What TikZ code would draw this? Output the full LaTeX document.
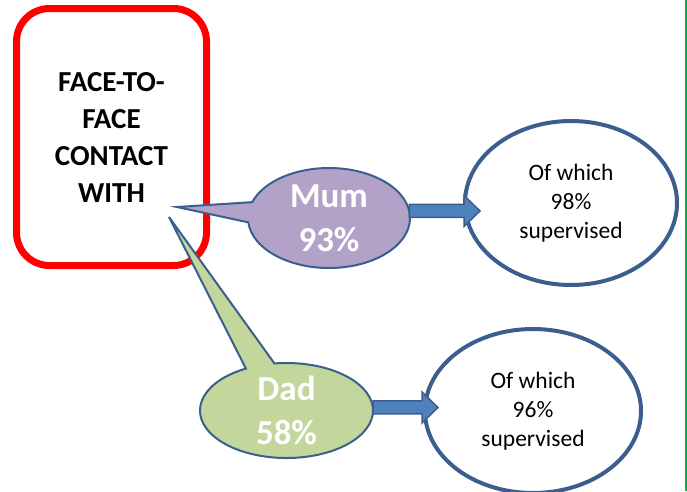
\documentclass[tikz,border=0pt]{standalone}
\usepackage{fontspec}
\setmainfont{Carlito}
\usetikzlibrary{calc,shapes.geometric}
\definecolor{boxred}{HTML}{FF0000}
\definecolor{mumfill}{HTML}{B3A2C7}
\definecolor{dadfill}{HTML}{C3D69B}
\definecolor{shapeline}{HTML}{3A5F8E}
\definecolor{arrowblue}{HTML}{4F81BD}
\definecolor{edgegreen}{HTML}{00B050}
\tikzset{
  facebox/.style={draw=boxred, line width=7pt, rounded corners=33pt,
    minimum width=190pt, minimum height=257pt, align=center,
    font=\bfseries\fontsize{29}{37}\selectfont},
  callout/.style={draw=shapeline, line width=2pt},
  bubble/.style={ellipse, inner sep=0pt, text=white, align=center,
    font=\bfseries\fontsize{35}{44}\selectfont},
  result/.style={ellipse, draw=shapeline, line width=4pt, fill=white,
    align=center, font=\fontsize{23.5}{29}\selectfont},
  fatarrow/.style={draw=shapeline, fill=arrowblue, line width=1.5pt,
    to path={let \p1=(\tikztostart), \p2=(\tikztotarget) in
      (\x1,\y1+6.5pt) -- (\x2-16pt,\y1+6.5pt) -- (\x2-16pt,\y1+15.5pt)
      -- (\x2,\y1) -- (\x2-16pt,\y1-15.5pt) -- (\x2-16pt,\y1-6.5pt)
      -- (\x1,\y1-6.5pt) -- cycle}}
}
\begin{document}
\begin{tikzpicture}[x=1pt,y=-1pt]
  \useasboundingbox (0,0) rectangle (687,491);
  \node[facebox] (face) at (111.5,137) {FACE-TO-\\FACE\\CONTACT\\WITH};
  % callouts
  \coordinate (mumc) at (329,218);
  \coordinate (dadc) at (286.5,410.5);
  \coordinate (mumtip) at (177,207);
  \coordinate (dadtip) at (169,217);
  \draw[callout, fill=mumfill] ([shift={(185:81pt and 50pt)}]mumc)
    arc[start angle=185, end angle=521.5, x radius=81pt, y radius=50pt]
    -- (mumtip) -- cycle;
  \draw[callout, fill=dadfill] ([shift={(118:86.5pt and 47.5pt)}]dadc)
    arc[start angle=118, end angle=458, x radius=86.5pt, y radius=47.5pt]
    -- (dadtip) -- cycle;
  \node[bubble, minimum width=162pt, minimum height=100pt] (mum) at (mumc) {Mum\\93\%};
  \node[bubble, minimum width=173pt, minimum height=95pt] (dad) at (dadc) {Dad\\58\%};
  % results
  \node[result, minimum width=212pt, minimum height=164pt] (mumsup) at (571,203)
    {Of which\\98\%\\supervised};
  \node[result, minimum width=216pt, minimum height=164pt] (dadsup) at (533,411)
    {Of which\\96\%\\supervised};
  \coordinate (mumhead) at ([xshift=17pt]mumsup.west);
  \coordinate (dadhead) at ([xshift=15pt]dadsup.west);
  \draw[fatarrow] (mum.5) to (mumhead);
  \draw[fatarrow] (dad.2) to (dadhead);
  \draw[edgegreen, line width=2pt] (686,0) -- (686,491);
\end{tikzpicture}
\end{document}
